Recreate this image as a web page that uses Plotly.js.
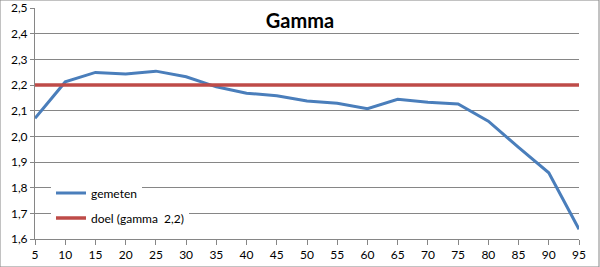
<!DOCTYPE html>
<html>
<head>
<meta charset="utf-8">
<script src="https://cdn.plot.ly/plotly-3.0.1.min.js"></script>
<style>html,body{margin:0;padding:0;background:#fff;} #chart{width:600px;height:267px;}</style>
</head>
<body>
<div id="chart"></div>
<script>
const xValues = [5,10,15,20,25,30,35,40,45,50,55,60,65,70,75,80,85,90,95];
const gemeten = [2.07,2.212,2.249,2.243,2.254,2.232,2.193,2.168,2.158,2.138,2.129,2.108,2.144,2.133,2.126,2.059,1.957,1.858,1.638];
const doel = xValues.map(() => 2.2);
const seriesNames = ["gemeten", "doel (gamma  2,2)"];
const yTicks = [1.6,1.7,1.8,1.9,2.0,2.1,2.2,2.3,2.4,2.5];

const font = "Lato, 'Open Sans', sans-serif";
const traces = [
  {x: xValues, y: gemeten, name: seriesNames[0], mode: "lines", line: {color: "#4a7ebb", width: 3}, legend: "legend"},
  {x: xValues, y: doel, name: seriesNames[1], mode: "lines", line: {color: "#be4b48", width: 3.5}, legend: "legend2"}
];
const legendBase = {xanchor: "left", yanchor: "middle", bgcolor: "#fff", borderwidth: 0,
                    itemwidth: 30, font: {family: font, size: 12, color: "#000"}};
const layout = {
  width: 600, height: 267,
  margin: {l: 35, r: 21, t: 8, b: 28},
  paper_bgcolor: "#fff", plot_bgcolor: "#fff",
  separators: ",.",
  font: {family: font, size: 12, color: "#000"},
  title: {text: "<b>Gamma</b>", font: {family: font, size: 20, color: "#000"}, x: 0.5, xanchor: "center", y: 0.92, yanchor: "middle"},
  xaxis: {range: [5, 95], tickvals: xValues, ticks: "outside", ticklen: 5, tickcolor: "#868686",
          showgrid: false, showline: true, linecolor: "#868686", linewidth: 1, zeroline: false,
          tickfont: {family: font, size: 12}, fixedrange: true},
  yaxis: {range: [1.6, 2.5], tickvals: yTicks, tickformat: ".1f", ticks: "outside", ticklen: 4, tickcolor: "#868686",
          showgrid: true, gridcolor: "#868686", gridwidth: 1, showline: true, linecolor: "#868686", zeroline: false,
          tickfont: {family: font, size: 12}, fixedrange: true},
  showlegend: true,
  legend: Object.assign({}, legendBase, {x: 16/544, y: 46/231}),
  legend2: Object.assign({}, legendBase, {x: 16/544, y: 21/231}),
  shapes: [{type: "rect", xref: "paper", yref: "paper", x0: -35/544, x1: 1 + 20/544, y0: -28/231, y1: 1 + 8/231,
            line: {color: "#868686", width: 1}, fillcolor: "rgba(0,0,0,0)", layer: "above"}]
};
Plotly.newPlot("chart", traces, layout, {staticPlot: true, displayModeBar: false});
</script>
</body>
</html>
